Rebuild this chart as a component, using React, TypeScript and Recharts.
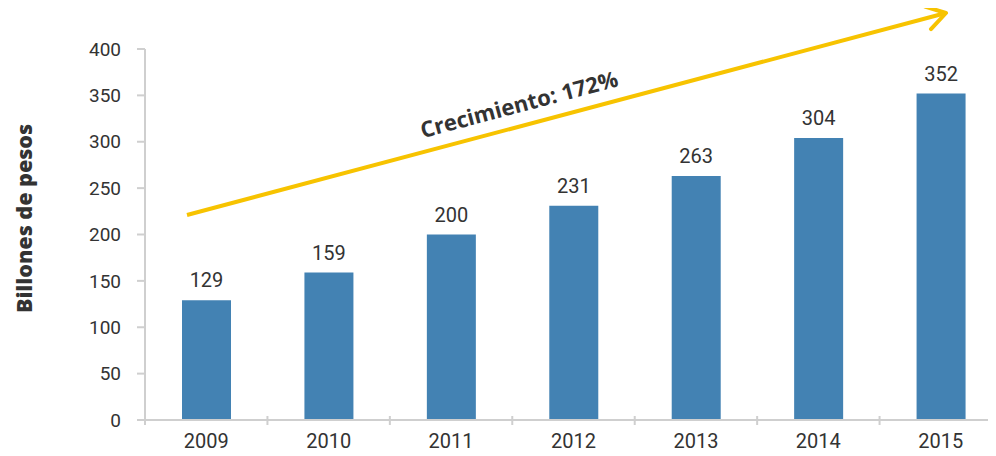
import React from "react";
import { BarChart, Bar, XAxis, YAxis, LabelList } from "recharts";

const years = ["2009", "2010", "2011", "2012", "2013", "2014", "2015"];
const billones = [129, 159, 200, 231, 263, 304, 352];
const yTicks = [0, 50, 100, 150, 200, 250, 300, 350, 400];
const axisTitle = "Billones de pesos";
const growthLabel = "Crecimiento: 172%";

const data = years.map((year, i) => ({ year, value: billones[i] }));

const AXIS = "#cfcfcf";
const TEXT = "#333333";
const BAR = "#4382b3";
const ARROW = "#f7c300";

function YearTick(props: any) {
  const { x, y, payload, width } = props;
  const band = (width || 857) / years.length;
  const left = x - band / 2;
  return (
    <g>
      <line x1={left} y1={y - 4} x2={left} y2={y + 5} stroke={AXIS} strokeWidth={2} />
      <text x={x} y={y + 28} textAnchor="middle" fill={TEXT} fontSize={20} fontFamily="Roboto">
        {payload.value}
      </text>
    </g>
  );
}

function AxisTitle(props: any) {
  const vb = props.viewBox || { x: 0, y: 49, width: 145, height: 371 };
  const cx = vb.x + 23;
  const cy = vb.y + vb.height / 2 - 16;
  return (
    <text
      x={cx}
      y={cy}
      textAnchor="middle"
      dominantBaseline="central"
      fill={TEXT}
      fontSize={21.5}
      fontWeight={800}
      fontFamily="Open Sans"
      transform={`rotate(-90 ${cx} ${cy})`}
    >
      {axisTitle}
    </text>
  );
}

function GrowthArrow() {
  const x1 = 187, y1 = 215, x2 = 946, y2 = 13;
  const ang = Math.atan2(y2 - y1, x2 - x1);
  const head = 22;
  const spread = (32 * Math.PI) / 180;
  const ax = x2 - head * Math.cos(ang - spread);
  const ay = y2 - head * Math.sin(ang - spread);
  const bx = x2 - head * Math.cos(ang + spread);
  const by = y2 - head * Math.sin(ang + spread);
  const deg = (ang * 180) / Math.PI;
  return (
    <svg width={996} height={456} style={{ position: "absolute", left: 0, top: 0, pointerEvents: "none" }}>
      <line x1={x1} y1={y1} x2={x2 - 2} y2={y2 + 0.5} stroke={ARROW} strokeWidth={4} />
      <polyline points={`${ax},${ay} ${x2},${y2} ${bx},${by}`} fill="none" stroke={ARROW} strokeWidth={4} strokeLinecap="round" strokeLinejoin="round" />
      <text
        x={521}
        y={112}
        textAnchor="middle"
        fill={TEXT}
        fontSize={22}
        fontWeight={700}
        fontFamily="Open Sans"
        transform={`rotate(${deg} 521 112)`}
      >
        {growthLabel}
      </text>
    </svg>
  );
}

export default function App() {
  return (
    <div style={{ position: "relative", width: 996, height: 456, margin: -8, overflow: "hidden", background: "#fff" }}>
      <BarChart width={1002} height={456} data={data} margin={{ top: 49, right: 0, bottom: 0, left: 0 }}>
        <XAxis
          dataKey="year"
          height={36}
          axisLine={{ stroke: AXIS, strokeWidth: 2 }}
          tickLine={false}
          tickSize={0}
          tickMargin={0}
          interval={0}
          tick={<YearTick />}
        />
        <YAxis
          width={145}
          domain={[0, 400]}
          ticks={yTicks}
          interval={0}
          axisLine={{ stroke: AXIS, strokeWidth: 2 }}
          tickLine={{ stroke: AXIS, strokeWidth: 2 }}
          tickSize={8}
          tickMargin={16}
          tick={{ fill: TEXT, fontSize: 19, fontFamily: "Roboto" }}
          label={<AxisTitle />}
        />
        <Bar dataKey="value" fill={BAR} barSize={49} isAnimationActive={false}>
          <LabelList dataKey="value" position="top" offset={13} fill={TEXT} fontSize={20} fontFamily="Roboto" />
        </Bar>
      </BarChart>
      <GrowthArrow />
    </div>
  );
}
